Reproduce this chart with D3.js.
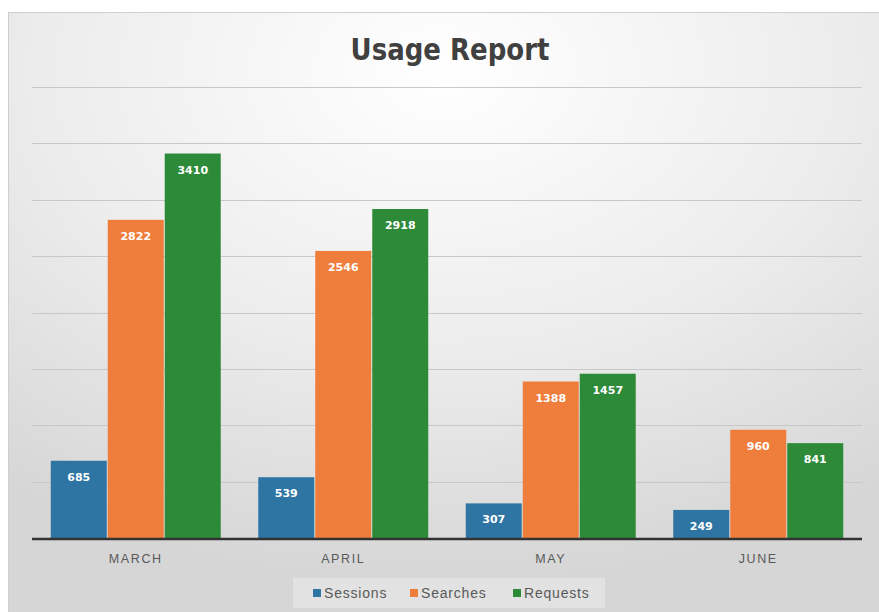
<!DOCTYPE html>
<html>
<head>
<meta charset="utf-8">
<script src="https://cdn.jsdelivr.net/npm/d3@7"></script>
<style>
  html, body { margin: 0; padding: 0; background: #fff; }
  svg { display: block; }
</style>
</head>
<body>
<div id="chart"></div>
<script>
// chart data
var months = ["MARCH", "APRIL", "MAY", "JUNE"];
var seriesNames = ["Sessions", "Searches", "Requests"];
var sessions = [685, 539, 307, 249];
var searches = [2822, 2546, 1388, 960];
var requests = [3410, 2918, 1457, 841];
var yTicks = [0, 500, 1000, 1500, 2000, 2500, 3000, 3500, 4000];

var colors = ["#2f75a3", "#ef7d3b", "#2d8a38"];
var seriesValues = [sessions, searches, requests];

var width = 879, height = 612;
var margin = { left: 32, right: 17, top: 87, bottom: 74 };

var svg = d3.select("#chart")
  .append("svg")
  .attr("width", width)
  .attr("height", height);

// background gradient for the chart area
var defs = svg.append("defs");
var grad = defs.append("radialGradient")
  .attr("id", "bg")
  .attr("cx", "50%").attr("cy", "10%")
  .attr("r", "85%");
grad.append("stop").attr("offset", "0%").attr("stop-color", "#ffffff");
grad.append("stop").attr("offset", "55%").attr("stop-color", "#ececec");
grad.append("stop").attr("offset", "100%").attr("stop-color", "#d6d6d6");

svg.append("rect")
  .attr("x", 8.5).attr("y", 12.5)
  .attr("width", width - 8).attr("height", height - 12)
  .attr("fill", "url(#bg)")
  .attr("stroke", "#cfcfcf");

var x0 = d3.scaleBand()
  .domain(months)
  .range([margin.left, width - margin.right])
  .paddingInner(0.176)
  .paddingOuter(0.088);

var x1 = d3.scaleBand()
  .domain(seriesNames)
  .range([0, x0.bandwidth()]);

var y = d3.scaleLinear()
  .domain([0, 4000])
  .range([height - margin.bottom, margin.top]);

// gridlines
svg.append("g")
  .selectAll("line")
  .data(yTicks.slice(1))
  .enter()
  .append("line")
  .attr("x1", margin.left)
  .attr("x2", width - margin.right)
  .attr("y1", d => Math.round(y(d)) + 0.5)
  .attr("y2", d => Math.round(y(d)) + 0.5)
  .attr("stroke", "#c8c8c8")
  .attr("stroke-width", 1);

// title (squeezed a bit to look like the condensed original)
svg.append("text")
  .attr("transform", "translate(450,60) scale(0.84,1)")
  .attr("text-anchor", "middle")
  .attr("font-family", "'DejaVu Sans', sans-serif")
  .attr("font-weight", "bold")
  .attr("font-size", 31)
  .attr("fill", "#404040")
  .text("Usage Report");

// bars
var groups = svg.append("g")
  .selectAll("g")
  .data(months)
  .enter()
  .append("g")
  .attr("transform", d => `translate(${x0(d)},0)`);

var bars = groups.selectAll("g")
  .data((m, i) => seriesNames.map((s, j) => ({ series: s, idx: j, value: seriesValues[j][i] })))
  .enter()
  .append("g");

bars.append("rect")
  .attr("x", d => x1(d.series) + 0.5)
  .attr("y", d => y(d.value))
  .attr("width", x1.bandwidth() - 1)
  .attr("height", d => y(0) - y(d.value))
  .attr("fill", d => colors[d.idx]);

bars.append("text")
  .attr("x", d => x1(d.series) + x1.bandwidth() / 2)
  .attr("y", d => y(d.value) + 20)
  .attr("text-anchor", "middle")
  .attr("font-family", "'DejaVu Sans', sans-serif")
  .attr("font-weight", "bold")
  .attr("font-size", 11)
  .attr("fill", "#ffffff")
  .text(d => d.value);

// baseline
svg.append("line")
  .attr("x1", margin.left)
  .attr("x2", width - margin.right)
  .attr("y1", y(0) + 1)
  .attr("y2", y(0) + 1)
  .attr("stroke", "#333333")
  .attr("stroke-width", 2.5);

// x axis labels
var xAxis = d3.axisBottom(x0).tickSize(0).tickPadding(14);
var gx = svg.append("g")
  .attr("transform", `translate(0,${y(0) + 2})`)
  .call(xAxis);
gx.select(".domain").remove();
gx.selectAll("text")
  .attr("font-family", "'Liberation Sans', Arial, sans-serif")
  .attr("font-size", 12.5)
  .attr("letter-spacing", "1.6px")
  .attr("fill", "#595959");

// legend
var legend = svg.append("g");
legend.append("rect")
  .attr("x", 293).attr("y", 578)
  .attr("width", 312).attr("height", 30)
  .attr("fill", "#ffffff")
  .attr("opacity", 0.3);

var legendX = [313, 410, 513];
var items = legend.selectAll("g.item")
  .data(seriesNames)
  .enter()
  .append("g")
  .attr("class", "item")
  .attr("transform", (d, i) => `translate(${legendX[i]},593)`);

items.append("rect")
  .attr("x", 0).attr("y", -4)
  .attr("width", 8).attr("height", 8)
  .attr("fill", (d, i) => colors[i]);

items.append("text")
  .attr("x", 11)
  .attr("y", 5)
  .attr("font-family", "'Liberation Sans', Arial, sans-serif")
  .attr("font-size", 14)
  .attr("letter-spacing", "0.8px")
  .attr("fill", "#595959")
  .text(d => d);
</script>
</body>
</html>
